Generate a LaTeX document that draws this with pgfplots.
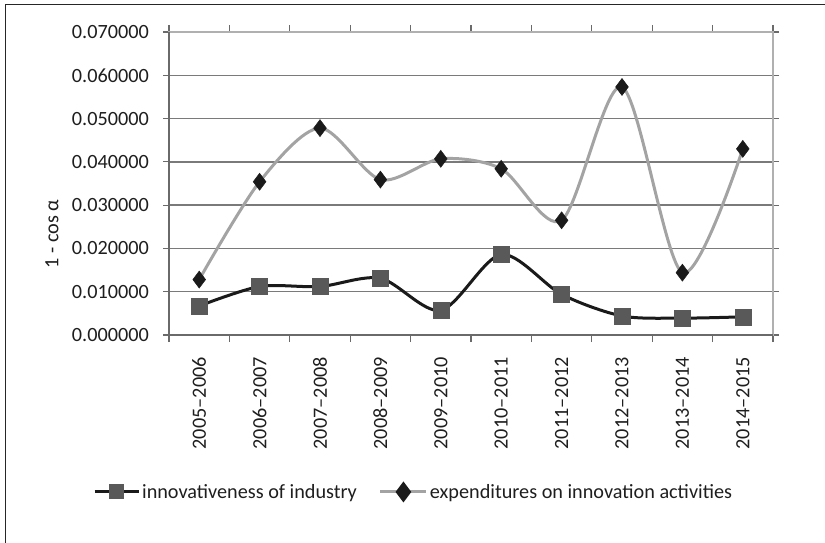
\documentclass[border=0pt]{standalone}
\usepackage{pgfplots}
\pgfplotsset{compat=1.18}
\usepackage{fontspec}
\setmainfont{Carlito}
\definecolor{txt}{HTML}{1E1E1E}
\definecolor{gridc}{HTML}{7A7A7A}
\definecolor{axisc}{HTML}{6A6A6A}
\definecolor{framec}{HTML}{B0B0B0}
\definecolor{innovline}{HTML}{1A1A1A}
\definecolor{innovmark}{HTML}{595959}
\definecolor{expline}{HTML}{A3A3A3}
\definecolor{expmark}{HTML}{1A1A1A}
\begin{document}
\begin{tikzpicture}
\useasboundingbox (0,0) rectangle (825bp,543bp);
\draw[line width=1.6bp, color=black!85] (5.5bp,0) -- (5.5bp,538.5bp) -- (825bp,538.5bp);
\begin{axis}[
  at={(169bp,208bp)}, anchor=south west,
  scale only axis, width=604bp, height=303bp,
  xmin=-0.5, xmax=9.5, ymin=0, ymax=0.07,
  scaled y ticks=false,
  font=\fontsize{20.3}{24}\selectfont,
  axis line style={draw=framec, line width=1.5bp},
  xtick={0,...,9},
  xticklabels={2005--2006,2006--2007,2007--2008,2008--2009,2009--2010,2010--2011,2011--2012,2012--2013,2013--2014,2014--2015},
  minor xtick={-0.5,0.5,...,9.5},
  major x tick style={draw=none},
  minor x tick style={draw=axisc, line width=1.2bp},
  minor tick length=7bp,
  tick align=outside,
  xticklabel style={rotate=90, anchor=east, inner sep=0pt, xshift=-16bp, text=txt},
  ytick={0,0.01,0.02,0.03,0.04,0.05,0.06,0.07},
  yticklabels={0.000000,0.010000,0.020000,0.030000,0.040000,0.050000,0.060000,0.070000},
  yticklabel style={anchor=east, inner sep=0pt, xshift=-14bp, text=txt},
  major y tick style={draw=axisc, line width=1.2bp},
  major tick length=6bp,
  ymajorgrids,
  major grid style={draw=gridc, line width=1.3bp},
  ylabel={1 - cos α},
  ylabel style={at={(axis description cs:-0.194,0.333)}, anchor=center, text=txt},
  legend columns=2,
  legend style={at={(axis description cs:0.405,-0.518)}, anchor=center, draw=none, fill=none,
    font=\fontsize{20.3}{24}\selectfont, text=txt,
    /tikz/every even column/.append style={column sep=20bp}},
  clip=false,
]
\addplot[innovline, line width=3bp, smooth, mark=square*, mark size=8bp,
  mark options={fill=innovmark, draw=innovmark, line width=0.5bp},
  legend image code/.code={\draw[innovline, line width=3bp] (0bp,0bp) -- (44bp,0bp);
    \fill[innovmark] (16bp,-6bp) rectangle (28bp,6bp);}]
  coordinates {(0,0.0067) (1,0.0112) (2,0.0112) (3,0.0131) (4,0.0057) (5,0.0186) (6,0.0094) (7,0.0044) (8,0.0039) (9,0.0042)};
\addlegendentry{innovativeness of industry}
\addplot[expline, line width=3bp, smooth, mark=diamond*, mark size=8.5bp,
  mark options={fill=expmark, draw=expmark, line width=0.5bp},
  legend image code/.code={\draw[expline, line width=3bp] (0bp,0bp) -- (46bp,0bp);
    \fill[expmark] (23bp,-8bp) -- (29bp,0bp) -- (23bp,8bp) -- (17bp,0bp) -- cycle;}]
  coordinates {(0,0.0128) (1,0.0354) (2,0.0478) (3,0.0359) (4,0.0407) (5,0.0384) (6,0.0265) (7,0.0573) (8,0.0144) (9,0.0430)};
\addlegendentry{expenditures on innovation activities}
\draw[axisc, line width=1.8bp] (rel axis cs:0,1) -- (rel axis cs:0,0) -- (rel axis cs:1,0);
\end{axis}
\end{tikzpicture}
\end{document}
